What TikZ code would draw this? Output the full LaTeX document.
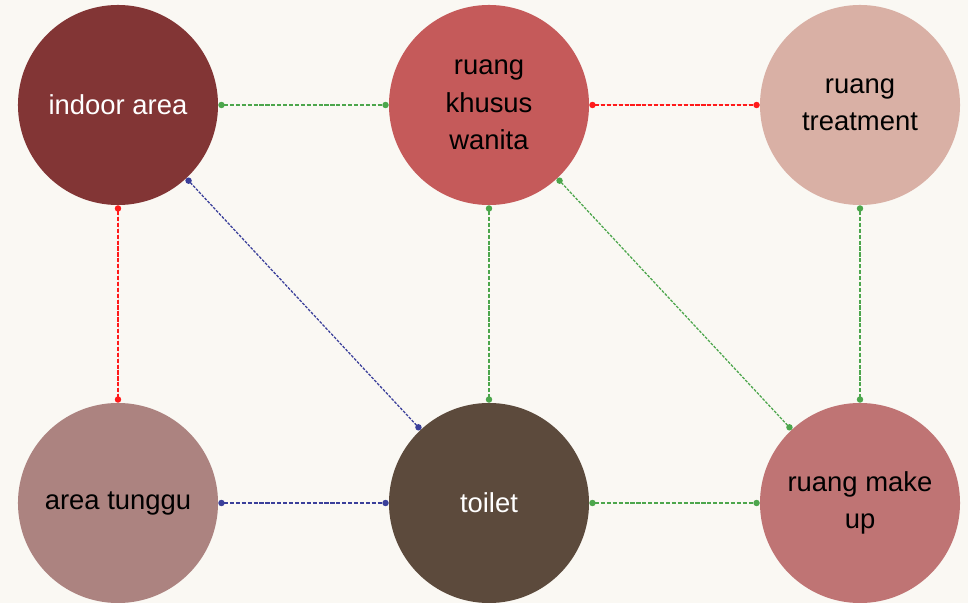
\documentclass[tikz,border=0pt]{standalone}
\usepackage{fontspec}
\setmainfont{Liberation Sans}
\usepackage{xcolor}
\definecolor{paper}{HTML}{FAF8F3}
\definecolor{indoorcol}{HTML}{823535}
\definecolor{wanitacol}{HTML}{C55A5A}
\definecolor{treatcol}{HTML}{D9B0A5}
\definecolor{tunggucol}{HTML}{AC8380}
\definecolor{toiletcol}{HTML}{5C4A3C}
\definecolor{makeupcol}{HTML}{BF7474}
\definecolor{lnkgreen}{HTML}{4CA64C}
\definecolor{lnkred}{HTML}{FF1A1A}
\definecolor{lnkblue}{HTML}{3A3F9A}
\usetikzlibrary{arrows.meta,positioning}
\tikzset{
  room/.style     = {circle,minimum size=5cm,inner sep=0pt,align=center,
                     font=\fontsize{19.5}{26.5}\selectfont,text=black},
  link/.style     = {{Circle[length=4.5pt]}-{Circle[length=4.5pt]},
                     line width=0.9pt,dash pattern=on 3pt off 1.2pt},
  near/.style     = {link,draw=lnkgreen},
  must/.style     = {link,draw=lnkred,fill=lnkred},
  far/.style      = {link,draw=lnkblue,dash pattern=on 2pt off 1pt},
}

\begin{document}
\begin{tikzpicture}[x=0.025cm,y=-0.025cm]
  \fill[paper] (0,0) rectangle (968,603);
  \useasboundingbox (0,0) rectangle (968,603);

  % top row
  \node[room,fill=indoorcol,text=white] (indoor) at (118,105) {indoor area};
  \node[room,fill=wanitacol] (wanita) at (489,105) {ruang\\ khusus\\ wanita};
  \node[room,fill=treatcol] (treat) at (860,105) {ruang\\ treatment};

  % bottom row
  \node[room,fill=tunggucol] (tunggu) at (118,503) {area tunggu};
  \node[room,fill=toiletcol,text=white] (toilet) at (489,503) {toilet};
  \node[room,fill=makeupcol] (makeup) at (860,503) {ruang make\\ up};

  % relations
  \draw[near] (indoor) -- (wanita);
  \draw[must] (wanita) -- (treat);
  \draw[must] (indoor) -- (tunggu);
  \draw[far]  (indoor) -- (toilet);
  \draw[near] (wanita) -- (toilet);
  \draw[near,dash pattern=on 2pt off 1pt] (wanita) -- (makeup);
  \draw[near] (treat) -- (makeup);
  \draw[far,dash pattern=on 3pt off 1.2pt] (tunggu) -- (toilet);
  \draw[near] (toilet) -- (makeup);
\end{tikzpicture}
\end{document}
